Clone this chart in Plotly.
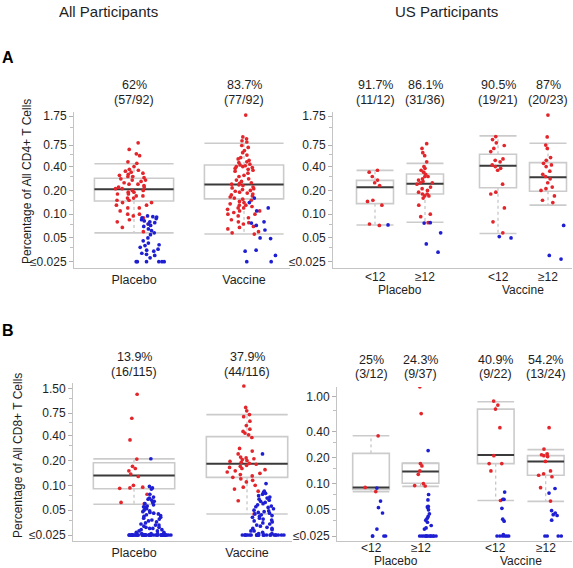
import plotly.graph_objects as go

# ---------------- data ----------------
# Panel A (CD4), all participants
a_all_cats = ["Placebo", "Vaccine"]
a_all_pct = ["62%", "83.7%"]
a_all_frac = ["(57/92)", "(77/92)"]
a_all_q1 = [0.147, 0.156]
a_all_med = [0.206, 0.238]
a_all_q3 = [0.285, 0.42]
a_all_lo = [0.058, 0.056]
a_all_hi = [0.435, 0.79]
a_all_resp_placebo = [0.80, 0.66, 0.58, 0.55, 0.46, 0.44, 0.40, 0.37, 0.36, 0.35,
                      0.34, 0.33, 0.32, 0.31, 0.30, 0.30, 0.29, 0.28, 0.27, 0.27,
                      0.26, 0.25, 0.24, 0.24, 0.23, 0.22, 0.22, 0.21, 0.21, 0.20,
                      0.20, 0.19, 0.19, 0.18, 0.18, 0.17, 0.17, 0.16, 0.16, 0.15,
                      0.15, 0.14, 0.14, 0.13, 0.13, 0.12, 0.12, 0.11, 0.10, 0.10,
                      0.095, 0.09, 0.085, 0.08, 0.075, 0.068, 0.06]
a_all_non_placebo = [0.095, 0.093, 0.092, 0.09, 0.088, 0.085, 0.082, 0.08, 0.078, 0.075,
                     0.072, 0.07, 0.065, 0.062, 0.058, 0.055, 0.05, 0.046, 0.043, 0.041,
                     0.04, 0.038, 0.036, 0.035, 0.034, 0.032, 0.031, 0.03, 0.028,
                     0.025, 0.025, 0.025, 0.025, 0.025, 0.025]
a_all_resp_vaccine = [1.8, 0.95, 0.9, 0.85, 0.82, 0.74, 0.70, 0.64, 0.60, 0.56,
                      0.52, 0.50, 0.48, 0.46, 0.45, 0.43, 0.42, 0.41, 0.40, 0.40,
                      0.39, 0.38, 0.37, 0.36, 0.35, 0.33, 0.31, 0.30, 0.28, 0.27,
                      0.26, 0.25, 0.245, 0.24, 0.235, 0.23, 0.22, 0.215, 0.21, 0.205,
                      0.20, 0.195, 0.19, 0.185, 0.18, 0.175, 0.17, 0.165, 0.16, 0.155,
                      0.15, 0.145, 0.14, 0.135, 0.13, 0.13, 0.125, 0.12, 0.12, 0.115,
                      0.11, 0.11, 0.105, 0.10, 0.10, 0.095, 0.09, 0.085, 0.08, 0.078,
                      0.075, 0.07, 0.068, 0.065, 0.06, 0.058, 0.056]
a_all_non_vaccine = [0.16, 0.14, 0.12, 0.11, 0.08, 0.077, 0.072, 0.063, 0.05, 0.049,
                     0.035, 0.034, 0.03, 0.025, 0.025]

# Panel A (CD4), US participants by age
a_us_cats = ["<12", "\u226512", "<12", "\u226512"]
a_us_groups = ["Placebo", "Vaccine"]
a_us_pct = ["91.7%", "86.1%", "90.5%", "87%"]
a_us_frac = ["(11/12)", "(31/36)", "(19/21)", "(20/23)"]
a_us_q1 = [0.136, 0.18, 0.216, 0.195]
a_us_med = [0.219, 0.243, 0.41, 0.293]
a_us_q3 = [0.268, 0.323, 0.573, 0.45]
a_us_lo = [0.073, 0.079, 0.057, 0.130]
a_us_hi = [0.358, 0.44, 0.98, 0.79]
a_us_resp_p_lt = [0.36, 0.34, 0.30, 0.27, 0.25, 0.23, 0.15, 0.145, 0.13, 0.075, 0.072]
a_us_non_p_lt = [0.073]
a_us_resp_p_ge = [0.78, 0.68, 0.60, 0.55, 0.46, 0.40, 0.38, 0.36, 0.34, 0.32,
                  0.30, 0.30, 0.28, 0.27, 0.26, 0.25, 0.25, 0.24, 0.22, 0.21,
                  0.20, 0.19, 0.18, 0.18, 0.17, 0.17, 0.16, 0.13, 0.10, 0.093, 0.078]
a_us_non_p_ge = [0.078, 0.077, 0.058, 0.042, 0.033]
a_us_resp_v_lt = [0.96, 0.88, 0.80, 0.74, 0.68, 0.62, 0.50, 0.48, 0.46, 0.42,
                  0.40, 0.38, 0.36, 0.24, 0.19, 0.18, 0.12, 0.08, 0.058]
a_us_non_v_lt = [0.052, 0.050]
a_us_resp_v_ge = [1.8, 0.95, 0.75, 0.68, 0.52, 0.48, 0.44, 0.42, 0.40, 0.35,
                  0.32, 0.30, 0.28, 0.25, 0.22, 0.21, 0.20, 0.17, 0.15, 0.14]
a_us_non_v_ge = [0.072, 0.030, 0.027]

# Panel B (CD8), all participants
b_all_cats = ["Placebo", "Vaccine"]
b_all_pct = ["13.9%", "37.9%"]
b_all_frac = ["(16/115)", "(44/116)"]
b_all_q1 = [0.091, 0.125]
b_all_med = [0.132, 0.183]
b_all_q3 = [0.188, 0.389]
b_all_lo = [0.059, 0.045]
b_all_hi = [0.209, 0.72]
b_all_resp_placebo = [1.27, 0.65, 0.355, 0.208, 0.17, 0.16, 0.15, 0.137, 0.128, 0.10,
                      0.095, 0.093, 0.092, 0.078, 0.062, 0.06]
b_all_non_placebo = [0.21, 0.097, 0.093, 0.09, 0.078, 0.072, 0.07, 0.068, 0.066, 0.064,
                     0.062, 0.06, 0.058, 0.056, 0.055, 0.054, 0.052, 0.05, 0.049, 0.048,
                     0.047, 0.046, 0.045, 0.044, 0.043, 0.042, 0.041, 0.04, 0.039, 0.038,
                     0.037, 0.036, 0.035, 0.034, 0.033, 0.033, 0.032, 0.031, 0.031, 0.030,
                     0.030, 0.029, 0.029, 0.028, 0.028, 0.027, 0.027, 0.026, 0.026, 0.026,
                     0.025, 0.025, 0.025, 0.025, 0.025, 0.025, 0.025, 0.025, 0.025, 0.025,
                     0.025, 0.025, 0.025, 0.025, 0.025, 0.025, 0.025, 0.025, 0.025, 0.025,
                     0.025, 0.025, 0.025, 0.025, 0.025, 0.025, 0.025, 0.025, 0.025, 0.025,
                     0.025, 0.025, 0.025, 0.025, 0.025, 0.025, 0.025, 0.025, 0.025, 0.025,
                     0.025, 0.025, 0.025, 0.025, 0.025, 0.025, 0.025, 0.025, 0.025]
b_all_resp_vaccine = [1.6, 0.88, 0.8, 0.72, 0.68, 0.6, 0.53, 0.48, 0.45, 0.43,
                      0.41, 0.38, 0.28, 0.26, 0.24, 0.22, 0.215, 0.21, 0.205, 0.2,
                      0.195, 0.19, 0.185, 0.18, 0.175, 0.17, 0.165, 0.16, 0.155, 0.15,
                      0.145, 0.14, 0.135, 0.13, 0.125, 0.12, 0.115, 0.11, 0.10, 0.095,
                      0.09, 0.085, 0.065, 0.045]
b_all_non_vaccine = [0.24, 0.105, 0.085, 0.082, 0.08, 0.078, 0.075, 0.072, 0.07, 0.068,
                     0.066, 0.064, 0.062, 0.06, 0.058, 0.056, 0.055, 0.054, 0.052, 0.05,
                     0.049, 0.048, 0.047, 0.046, 0.045, 0.044, 0.043, 0.042, 0.041, 0.04,
                     0.039, 0.038, 0.037, 0.036, 0.035, 0.034, 0.033, 0.032, 0.031, 0.03,
                     0.03, 0.029, 0.028, 0.028, 0.027, 0.026, 0.026,
                     0.025, 0.025, 0.025, 0.025, 0.025, 0.025, 0.025, 0.025, 0.025, 0.025,
                     0.025, 0.025, 0.025, 0.025, 0.025, 0.025, 0.025, 0.025, 0.025, 0.025,
                     0.025, 0.025, 0.025, 0.025, 0.025]

# Panel B (CD8), US participants by age
b_us_cats = ["<12", "\u226512", "<12", "\u226512"]
b_us_groups = ["Placebo", "Vaccine"]
b_us_pct = ["25%", "24.3%", "40.9%", "54.2%"]
b_us_frac = ["(3/12)", "(9/37)", "(9/22)", "(13/24)"]
b_us_q1 = [0.086, 0.101, 0.17, 0.125]
b_us_med = [0.0906, 0.138, 0.213, 0.18]
b_us_q3 = [0.223, 0.171, 0.72, 0.21]
b_us_lo = [0.081, 0.093, 0.064, 0.0625]
b_us_hi = [0.355, 0.172, 0.875, 0.246]
b_us_resp_p_lt = [0.355, 0.0906, 0.081]
b_us_non_p_lt = [0.089, 0.063, 0.053, 0.046, 0.03, 0.025, 0.025, 0.025, 0.025]
b_us_resp_p_ge = [1.3, 0.64, 0.17, 0.16, 0.14, 0.128, 0.10, 0.095, 0.094]
b_us_non_p_ge = [0.24, 0.075, 0.065, 0.055, 0.054, 0.053, 0.05, 0.045, 0.042, 0.04,
                 0.038, 0.036, 0.033, 0.031, 0.03,
                 0.025, 0.025, 0.025, 0.025, 0.025, 0.025, 0.025, 0.025, 0.025, 0.025,
                 0.025, 0.025, 0.025]
b_us_resp_v_lt = [0.89, 0.80, 0.72, 0.44, 0.21, 0.17, 0.17, 0.14, 0.064]
b_us_non_v_lt = [0.08, 0.066, 0.066, 0.052, 0.039, 0.037, 0.026,
                 0.025, 0.025, 0.025, 0.025, 0.025, 0.025]
b_us_resp_v_ge = [0.44, 0.25, 0.22, 0.215, 0.21, 0.205, 0.18, 0.14, 0.13, 0.125,
                  0.12, 0.09, 0.063]
b_us_non_v_ge = [0.088, 0.078, 0.049, 0.046, 0.044, 0.043, 0.038,
                 0.025, 0.025, 0.025, 0.025]

a_ticks = [0.025, 0.05, 0.10, 0.20, 0.40, 0.75, 1.75]
a_ticktext = ["\u22640.025", "0.05", "0.10", "0.20", "0.40", "0.75", "1.75"]
b_all_ticks = [0.025, 0.05, 0.10, 0.20, 0.40, 0.75, 1.50]
b_all_ticktext = ["\u22640.025", "0.05", "0.10", "0.20", "0.40", "0.75", "1.50"]
b_us_ticks = [0.025, 0.05, 0.10, 0.20, 0.40, 1.00]
b_us_ticktext = ["\u22640.025", "0.05", "0.10", "0.20", "0.40", "1.00"]

# ---------------- styling / layout ----------------
W, H = 573, 568
RED = "#e3262b"
BLUE = "#1e1ed2"
BOXC = "#cbcbcb"
MEDC = "#3a3a3a"
FONT = "Liberation Sans, Arial, sans-serif"
TXT = "#1e1e1e"


def px_x(v):
    return v / W


def px_y(v):
    return 1 - v / H


panels = [
    dict(n=1, pos=[1, 2], hw=0.36, cats=a_all_cats, pct=a_all_pct, frac=a_all_frac,
         q1=a_all_q1, med=a_all_med, q3=a_all_q3, lo=a_all_lo, hi=a_all_hi,
         resp=[a_all_resp_placebo, a_all_resp_vaccine],
         non=[a_all_non_placebo, a_all_non_vaccine],
         xdom=[px_x(74), px_x(290)], xr=[0.4545, 2.418],
         ydom=[px_y(268), px_y(112)], yr=[-1.6819, 0.2937],
         ticks=a_ticks, ticktext=a_ticktext, pcty=(85, 100)),
    dict(n=2, pos=[1, 2, 3.46, 4.46], hw=0.37, cats=a_us_cats, pct=a_us_pct, frac=a_us_frac,
         q1=a_us_q1, med=a_us_med, q3=a_us_q3, lo=a_us_lo, hi=a_us_hi,
         resp=[a_us_resp_p_lt, a_us_resp_p_ge, a_us_resp_v_lt, a_us_resp_v_ge],
         non=[a_us_non_p_lt, a_us_non_p_ge, a_us_non_v_lt, a_us_non_v_ge],
         xdom=[px_x(333), px_x(572)], xr=[0.16, 4.94],
         ydom=[px_y(268), px_y(112)], yr=[-1.6819, 0.2937],
         ticks=a_ticks, ticktext=a_ticktext, pcty=(85, 100),
         groups=a_us_groups, caty=277, groupy=290),
    dict(n=3, pos=[1, 2], hw=0.36, cats=b_all_cats, pct=b_all_pct, frac=b_all_frac,
         q1=b_all_q1, med=b_all_med, q3=b_all_q3, lo=b_all_lo, hi=b_all_hi,
         resp=[b_all_resp_placebo, b_all_resp_vaccine],
         non=[b_all_non_placebo, b_all_non_vaccine],
         xdom=[px_x(73), px_x(292)], xr=[0.46, 2.398],
         ydom=[px_y(541), px_y(383)], yr=[-1.6748, 0.2404],
         ticks=b_all_ticks, ticktext=b_all_ticktext, pcty=(357, 372)),
    dict(n=4, pos=[1, 2, 3.52, 4.53], hw=0.37, cats=b_us_cats, pct=b_us_pct, frac=b_us_frac,
         q1=b_us_q1, med=b_us_med, q3=b_us_q3, lo=b_us_lo, hi=b_us_hi,
         resp=[b_us_resp_p_lt, b_us_resp_p_ge, b_us_resp_v_lt, b_us_resp_v_ge],
         non=[b_us_non_p_lt, b_us_non_p_ge, b_us_non_v_lt, b_us_non_v_ge],
         xdom=[px_x(337), px_x(572)], xr=[0.313, 5.06],
         ydom=[px_y(541), px_y(387)], yr=[-1.6595, 0.1115],
         ticks=b_us_ticks, ticktext=b_us_ticktext, pcty=(360, 374),
         groups=b_us_groups, caty=548, groupy=561),
]


def label(text, x, y, xref="paper", size=12.5, **kw):
    d = dict(text=text, x=x, y=y, xref=xref, yref="paper", showarrow=False,
             xanchor="center", yanchor="middle",
             font=dict(size=size, color=kw.pop("color", TXT), family=FONT))
    d.update(kw)
    return d


fig = go.Figure()
shapes = []
annotations = []
layout_axes = {}

for p in panels:
    n = p["n"]
    xa = "x" if n == 1 else f"x{n}"
    ya = "y" if n == 1 else f"y{n}"
    w = p["hw"]
    for i, c in enumerate(p["pos"]):
        q1, med, q3, lo, hi = p["q1"][i], p["med"][i], p["q3"][i], p["lo"][i], p["hi"][i]
        # dotted whiskers
        for a, b in ((q3, hi), (q1, lo)):
            shapes.append(dict(type="line", xref=xa, yref=ya, x0=c, x1=c, y0=a, y1=b,
                               line=dict(color="#b5b5b5", width=1, dash="dot"), layer="below"))
        # caps
        for v in (hi, lo):
            shapes.append(dict(type="line", xref=xa, yref=ya, x0=c - w, x1=c + w, y0=v, y1=v,
                               line=dict(color=BOXC, width=1.6), layer="below"))
        # box
        shapes.append(dict(type="rect", xref=xa, yref=ya, x0=c - w, x1=c + w, y0=q1, y1=q3,
                           line=dict(color=BOXC, width=1.6), fillcolor="rgba(255,255,255,0)",
                           layer="below"))
        # median
        shapes.append(dict(type="line", xref=xa, yref=ya, x0=c - w, x1=c + w, y0=med, y1=med,
                           line=dict(color=MEDC, width=2), layer="below"))
        # points
        fig.add_trace(go.Box(y=p["resp"][i], x0=c, width=2 * w, boxpoints="all", jitter=0.5,
                             pointpos=0.0, line=dict(width=0, color="rgba(0,0,0,0)"),
                             fillcolor="rgba(0,0,0,0)", marker=dict(color=RED, size=3.7),
                             hoveron="points", showlegend=False, xaxis=xa, yaxis=ya))
        fig.add_trace(go.Box(y=p["non"][i], x0=c, width=2 * w, boxpoints="all", jitter=0.55,
                             pointpos=0.42, line=dict(width=0, color="rgba(0,0,0,0)"),
                             fillcolor="rgba(0,0,0,0)", marker=dict(color=BLUE, size=3.7),
                             hoveron="points", showlegend=False, xaxis=xa, yaxis=ya))
        # percent labels
        annotations.append(label(p["pct"][i], c, px_y(p["pcty"][0]), xref=xa))
        annotations.append(label(p["frac"][i], c, px_y(p["pcty"][1]), xref=xa))
    has_groups = "groups" in p
    if has_groups:
        # age-group category labels and treatment group labels under the axis
        for i, c in enumerate(p["pos"]):
            annotations.append(label(p["cats"][i], c, px_y(p["caty"]), xref=xa, size=12))
        for k, g in enumerate(p["groups"]):
            annotations.append(label(g, (p["pos"][2 * k] + p["pos"][2 * k + 1]) / 2,
                                     px_y(p["groupy"]), xref=xa, size=12))
    minors = []
    tv = p["ticks"]
    for j in range(len(tv) - 1):
        minors.append((tv[j] + tv[j + 1]) / 2)
    xkey = "xaxis" if n == 1 else f"xaxis{n}"
    ykey = "yaxis" if n == 1 else f"yaxis{n}"
    layout_axes[xkey] = dict(domain=p["xdom"], range=p["xr"], anchor=ya, tickmode="array",
                             tickvals=p["pos"], ticktext=p["cats"],
                             showticklabels=not has_groups, showline=True,
                             linecolor="#c4c4c4", linewidth=1, ticks="", showgrid=False,
                             zeroline=False, tickfont=dict(size=12.5, color=TXT, family=FONT),
                             fixedrange=True, automargin=False)
    layout_axes[ykey] = dict(domain=p["ydom"], type="log", range=p["yr"], anchor=xa,
                             tickmode="array", tickvals=p["ticks"], ticktext=p["ticktext"],
                             showline=True, linecolor="#c4c4c4", linewidth=1,
                             ticks="outside", ticklen=4, tickcolor="#b0b0b0",
                             minor=dict(tickmode="array", tickvals=minors, ticks="outside",
                                        ticklen=3, tickcolor="#c0c0c0"),
                             showgrid=False, zeroline=False, automargin=False,
                             tickfont=dict(size=12, color=TXT, family=FONT), fixedrange=True)

# headers, panel letters, y titles
annotations += [
    label("All Participants", px_x(108), px_y(12), size=15),
    label("US Participants", px_x(446), px_y(12), size=15),
    label("<b>A</b>", px_x(8), px_y(57), size=16, color="#000"),
    label("<b>B</b>", px_x(8), px_y(330), size=16, color="#000"),
    label("Percentage of All CD4+ T Cells", px_x(27), px_y(182), size=12, textangle=-90),
    label("Percentage of All CD8+ T Cells", px_x(18), px_y(456), size=12, textangle=-90),
]

fig.update_layout(width=W, height=H, margin=dict(l=0, r=0, t=0, b=0, autoexpand=False),
                  paper_bgcolor="white", plot_bgcolor="white", boxmode="overlay",
                  showlegend=False, shapes=shapes, annotations=annotations,
                  font=dict(family=FONT, color=TXT), **layout_axes)

fig.write_html("out.html", config={"displayModeBar": False},
               post_script="document.body.style.margin='0px';document.body.style.padding='0px';")
